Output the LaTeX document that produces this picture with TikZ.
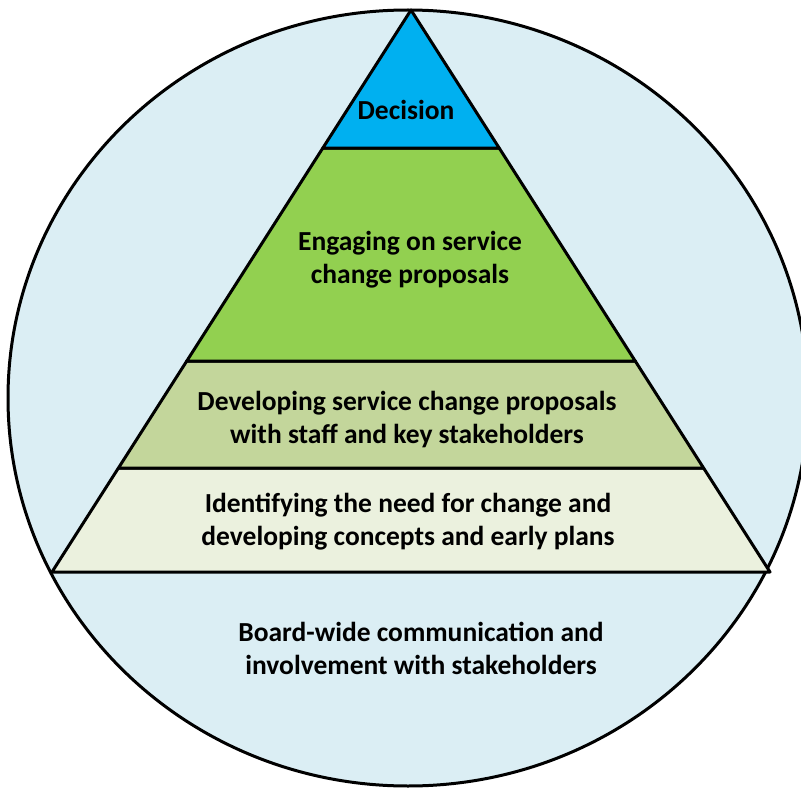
\documentclass[tikz,border=0pt]{standalone}
\usepackage{fontspec}
\setmainfont{Carlito}
\usetikzlibrary{calc}

\definecolor{ringblue}{HTML}{DBEEF4}
\definecolor{topblue}{HTML}{00B0F0}
\definecolor{leafgreen}{HTML}{92D050}
\definecolor{olivegreen}{HTML}{C3D69B}
\definecolor{palegreen}{HTML}{EBF1DE}

\tikzset{
  band/.style={draw=black,line width=3pt,line join=round},
  label/.style={font=\bfseries\fontsize{27.5}{33}\selectfont,align=center,text=black}
}

\begin{document}
\begin{tikzpicture}[x=1pt,y=-1pt]
\useasboundingbox (0,0) rectangle (801,789);
\clip (0,0) rectangle (801,789);
\fill[white] (0,0) rectangle (801,789);

% outer ring
\draw[band,fill=ringblue] (408,398) ellipse [x radius=400pt,y radius=388pt];

% pyramid corners
\coordinate (apex) at (411,10);
\coordinate (bl) at (52,572);
\coordinate (br) at (770,572);
\coordinate (l1) at ($(apex)!0.2456!(bl)$);
\coordinate (r1) at ($(apex)!0.2456!(br)$);
\coordinate (l2) at ($(apex)!0.6246!(bl)$);
\coordinate (r2) at ($(apex)!0.6246!(br)$);
\coordinate (l3) at ($(apex)!0.815!(bl)$);
\coordinate (r3) at ($(apex)!0.815!(br)$);

\draw[band,fill=palegreen] (l3) -- (r3) -- (br) -- (bl) -- cycle;
\draw[band,fill=olivegreen] (l2) -- (r2) -- (r3) -- (l3) -- cycle;
\draw[band,fill=leafgreen] (l1) -- (r1) -- (r2) -- (l2) -- cycle;
\draw[band,fill=topblue] (apex) -- (r1) -- (l1) -- cycle;

\node[label] (decision) at (406,110) {Decision};
\node[label] (engaging) at (410,260) {Engaging on service\\change proposals};
\node[label] (developing) at (407,420) {Developing service change proposals\\with staff and key stakeholders};
\node[label] (identifying) at (408,522) {Identifying the need for change and\\developing concepts and early plans};
\node[label] (boardwide) at (421,648) {Board-wide communication and\\involvement with stakeholders};
\end{tikzpicture}
\end{document}
